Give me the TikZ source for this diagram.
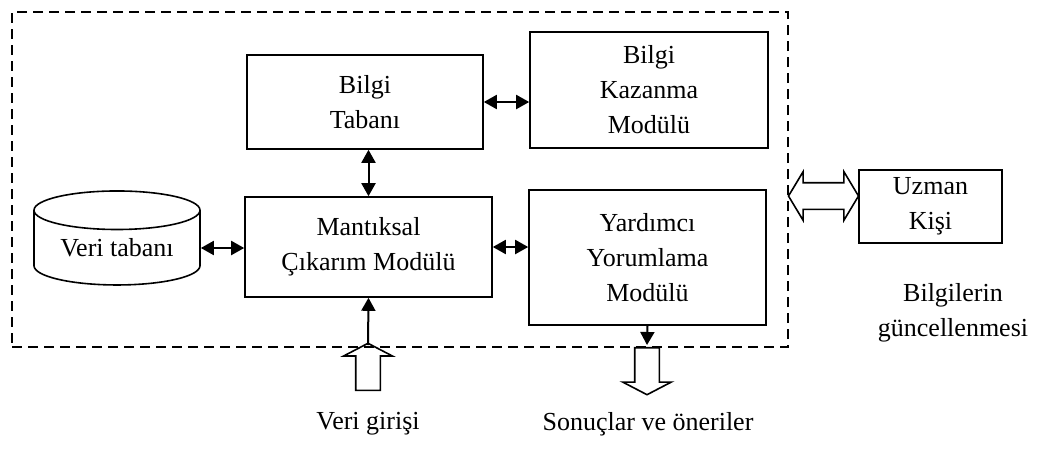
\documentclass[tikz,border=0pt]{standalone}
\usepackage{fontspec}
\setmainfont{Liberation Serif}
\usetikzlibrary{shapes.geometric,shapes.arrows,arrows.meta}

\tikzset{
	modul/.style={draw, line width=1.6pt, align=center, inner sep=0pt},
	ciftok/.style={{Triangle[length=13pt,width=14pt]}-{Triangle[length=13pt,width=14pt]}, line width=2pt},
	tekok/.style={-{Triangle[length=13pt,width=14pt]}, line width=2pt},
	bosok/.style={draw, line width=1.6pt, single arrow, minimum height=47pt, single arrow head extend=12pt, single arrow head indent=0pt, single arrow tip angle=125, inner sep=11.5pt}
}

\begin{document}
\begin{tikzpicture}[x=1pt, y=-1pt, font=\fontsize{26}{35}\selectfont]

	\useasboundingbox (0,0) rectangle (1039,456);

	% The frame
	\node[draw, dash pattern=on 10pt off 6pt, line width=2pt, minimum width=776pt, minimum height=335pt, inner sep=0pt] (sistem) at (400,179.5) {};

	% Modules
	\node[modul, minimum width=236pt, minimum height=94pt] (tabani) at (365,102) {Bilgi\\Tabanı};
	\node[modul, minimum width=238pt, minimum height=116pt] (kazanma) at (649,90) {Bilgi\\Kazanma\\Modülü};
	\node[modul, minimum width=247pt, minimum height=100pt] (mantiksal) at (368.5,247) {Mantıksal\\Çıkarım Modülü};
	\node[modul, minimum width=237pt, minimum height=135pt] (yardimci) at (647.5,257.5) {Yardımcı\\Yorumlama\\Modülü};
	\node[draw, line width=1.6pt, cylinder, shape border rotate=90, aspect=0.34, minimum width=166pt, minimum height=94pt, inner sep=0pt] (veritabani) at (117,248) {Veri tabanı};

	% The expert
	\node[modul, minimum width=143pt, minimum height=73pt] (uzman) at (930.5,206.5) {Uzman\\Kişi};
	\node[draw, line width=1.6pt, double arrow, minimum height=70pt, double arrow head extend=11pt, double arrow head indent=0pt, double arrow tip angle=118, inner sep=12.5pt] (guncelok) at (823.5,196) {};
	\node (guncelle) at (953,313) [align=center] {Bilgilerin\\güncellenmesi};

	% Input and output
	\node[bosok, shape border rotate=90] (girisok) at (368,370) {};
	\node[bosok, shape border rotate=270] (cikisok) at (647,368) {};
	\coordinate (giris) at (368,345);
	\coordinate (cikis) at (647,345);
	\node (verigirisi) at (368,424) {Veri girişi};
	\node (sonuclar) at (648,424) {Sonuçlar ve öneriler};

	% Connections
	\draw[ciftok] (tabani.east) -- (tabani.east -| kazanma.west);
	\draw[ciftok] (mantiksal.north) -- (mantiksal.north |- tabani.south);
	\draw[ciftok] (veritabani.east) -- (veritabani.east -| mantiksal.west);
	\draw[ciftok] (mantiksal.east) -- (mantiksal.east -| yardimci.west);
	\draw[tekok] (giris) -- (mantiksal.south);
	\draw[tekok] (yardimci.south) -- (cikis);

\end{tikzpicture}
\end{document}
